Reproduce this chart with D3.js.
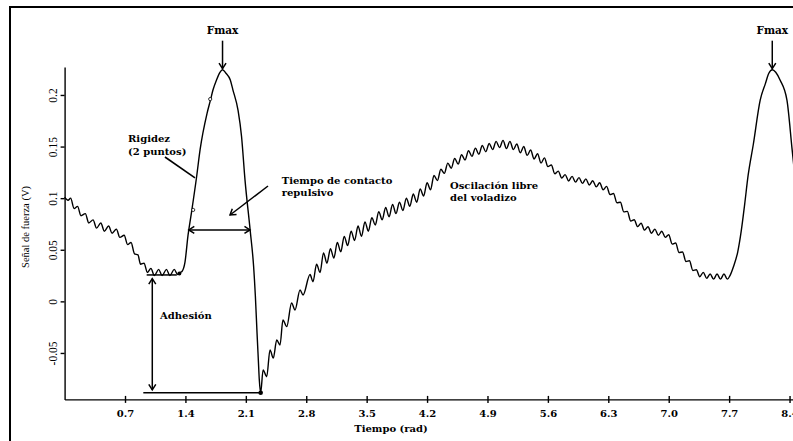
<!DOCTYPE html>
<html>
<head>
<meta charset="utf-8">
<script src="https://cdn.jsdelivr.net/npm/d3@7"></script>
<style>
body { margin: 0; background: #fff; }
svg { display: block; }
.lbl { font-family: "DejaVu Serif", serif; font-weight: bold; font-size: 10px; fill: #000; }
.ylbl { font-family: "Liberation Serif", serif; font-size: 11.5px; fill: #000; }
</style>
</head>
<body>
<div class="chart"></div>
<script>
var xTicks = [0.7, 1.4, 2.1, 2.8, 3.5, 4.2, 4.9, 5.6, 6.3, 7.0, 7.7, 8.4];
var xTickLabels = ["0.7", "1.4", "2.1", "2.8", "3.5", "4.2", "4.9", "5.6", "6.3", "7.0", "7.7", "8.4"];
var yTicks = [-0.05, 0, 0.05, 0.1, 0.15, 0.2];
var yTickLabels = ["-0.05", "0", "0.05", "0.1", "0.15", "0.2"];

// señal de fuerza (V) vs tiempo (rad)
var senal = [
	[0.00, 0.101], [0.04, 0.098], [0.07, 0.100], [0.11, 0.090], [0.15, 0.092], [0.19, 0.083],
	[0.24, 0.085], [0.28, 0.076], [0.33, 0.079], [0.37, 0.071], [0.42, 0.076], [0.46, 0.068],
	[0.51, 0.073], [0.55, 0.066], [0.60, 0.070], [0.64, 0.062], [0.69, 0.064], [0.73, 0.055],
	[0.77, 0.057], [0.81, 0.046], [0.85, 0.045], [0.88, 0.036], [0.92, 0.037], [0.96, 0.028],
	[1.00, 0.032], [1.04, 0.025], [1.09, 0.031], [1.13, 0.025], [1.18, 0.031], [1.22, 0.025],
	[1.27, 0.031], [1.31, 0.026], [1.34, 0.028],
	[1.36, 0.029], [1.395, 0.038], [1.43, 0.064], [1.47, 0.086], [1.53, 0.121], [1.57, 0.147],
	[1.65, 0.182], [1.69, 0.195], [1.72, 0.205], [1.76, 0.2145], [1.80, 0.222], [1.83, 0.2245],
	[1.87, 0.221], [1.92, 0.2145], [1.95, 0.205], [2.01, 0.185], [2.05, 0.160], [2.09, 0.118],
	[2.15, 0.069], [2.19, 0.034], [2.21, 0.006], [2.23, -0.031], [2.245, -0.057], [2.256, -0.076],
	[2.272, -0.0885],
	[2.30, -0.0665], [2.342, -0.073], [2.38, -0.047], [2.418, -0.055], [2.458, -0.0374], [2.496, -0.0423],
	[2.53, -0.018], [2.574, -0.0245], [2.63, -0.0016], [2.67, -0.0083], [2.728, 0.011], [2.763, 0.0062],
	[2.844, 0.026], [2.878, 0.019], [2.92, 0.036], [2.96, 0.028],
	[3.00, 0.047], [3.04, 0.037], [3.08, 0.051], [3.12, 0.042], [3.16, 0.057], [3.20, 0.048],
	[3.24, 0.063], [3.28, 0.054], [3.32, 0.068], [3.36, 0.059], [3.40, 0.073], [3.44, 0.063],
	[3.48, 0.077], [3.52, 0.068], [3.56, 0.081], [3.60, 0.074], [3.64, 0.087], [3.68, 0.079],
	[3.72, 0.091], [3.76, 0.082], [3.80, 0.094], [3.84, 0.085], [3.88, 0.096], [3.92, 0.088],
	[3.96, 0.100], [4.00, 0.092], [4.04, 0.104], [4.08, 0.096], [4.12, 0.109], [4.16, 0.102],
	[4.20, 0.115], [4.24, 0.108], [4.28, 0.122], [4.32, 0.117], [4.36, 0.128], [4.40, 0.124],
	[4.44, 0.134], [4.48, 0.129], [4.52, 0.1385], [4.56, 0.133], [4.60, 0.142], [4.64, 0.137],
	[4.68, 0.146], [4.72, 0.1405], [4.76, 0.1485], [4.80, 0.1426], [4.84, 0.151], [4.88, 0.145],
	[4.92, 0.153], [4.96, 0.147], [5.00, 0.155], [5.04, 0.149], [5.08, 0.156], [5.12, 0.148],
	[5.16, 0.155], [5.20, 0.147], [5.24, 0.1525], [5.28, 0.144], [5.32, 0.150], [5.36, 0.1415],
	[5.40, 0.1467], [5.44, 0.138], [5.48, 0.143], [5.52, 0.134], [5.56, 0.139], [5.60, 0.1306],
	[5.64, 0.1322], [5.68, 0.1237], [5.72, 0.1262], [5.76, 0.1195], [5.80, 0.1228], [5.84, 0.1167],
	[5.88, 0.1211], [5.92, 0.1155], [5.96, 0.1199], [6.00, 0.1143], [6.04, 0.1187], [6.08, 0.1128],
	[6.12, 0.1169], [6.16, 0.1109], [6.20, 0.115], [6.24, 0.1082], [6.28, 0.1114], [6.32, 0.1035],
	[6.36, 0.1045], [6.40, 0.0955], [6.44, 0.0961], [6.48, 0.0867], [6.52, 0.0872], [6.56, 0.0778],
	[6.60, 0.0791], [6.64, 0.0724], [6.68, 0.0757], [6.72, 0.069], [6.76, 0.0723], [6.80, 0.066],
	[6.84, 0.070], [6.88, 0.064], [6.92, 0.068], [6.96, 0.062], [7.00, 0.0645], [7.04, 0.0555],
	[7.08, 0.0565], [7.12, 0.0473], [7.16, 0.0479], [7.20, 0.0386], [7.24, 0.0393], [7.28, 0.0299],
	[7.32, 0.0306], [7.36, 0.0239], [7.40, 0.0281], [7.44, 0.0223], [7.48, 0.0265], [7.52, 0.0215],
	[7.56, 0.0265], [7.60, 0.0215], [7.64, 0.0265], [7.68, 0.0215], [7.71, 0.025],
	[7.75, 0.0336], [7.80, 0.048], [7.84, 0.068], [7.88, 0.094], [7.92, 0.122], [7.98, 0.152],
	[8.06, 0.195], [8.12, 0.211], [8.16, 0.221], [8.20, 0.2245], [8.24, 0.222], [8.29, 0.2145],
	[8.37, 0.195], [8.43, 0.147], [8.47, 0.115]
];

var W = 793, H = 441;

var svg = d3.select(".chart").append("svg")
	.attr("width", W)
	.attr("height", H);

var x = d3.scaleLinear()
	.domain([0, 8.6])
	.range([64.6, 806.8]);

var y = d3.scaleLinear()
	.domain([-0.095, 0.227])
	.range([399.4, 67.1]);

var defs = svg.append("defs");
defs.append("marker")
		.attr("id", "punta")
		.attr("markerUnits", "userSpaceOnUse")
		.attr("viewBox", "-8 -6 10 12")
		.attr("markerWidth", 10)
		.attr("markerHeight", 12)
		.attr("refX", 0)
		.attr("refY", 0)
		.attr("orient", "auto-start-reverse")
	.append("path")
		.attr("d", "M-5.5,-3.5L0,0L-5.5,3.5")
		.attr("fill", "none")
		.attr("stroke", "#000")
		.attr("stroke-width", 1.5);

// marco
svg.append("rect")
	.attr("x", 10)
	.attr("y", 7)
	.attr("width", 820)
	.attr("height", 460)
	.attr("fill", "none")
	.attr("stroke", "#000")
	.attr("stroke-width", 2);

// ejes
var xAxis = svg.append("g")
	.attr("transform", "translate(0," + y.range()[0] + ")")
	.call(d3.axisBottom(x)
		.tickValues(xTicks)
		.tickFormat(function(d, i){ return xTickLabels[i]; })
		.tickSize(3.5)
		.tickSizeOuter(0));

xAxis.selectAll("line").attr("y1", -3.5);
xAxis.selectAll("text")
	.attr("class", "lbl")
	.attr("font-family", null)
	.attr("y", 17.3)
	.attr("dy", null);

var yAxis = svg.append("g")
	.attr("transform", "translate(" + x(0) + ",0)")
	.call(d3.axisLeft(y)
		.tickValues(yTicks)
		.tickFormat(function(d, i){ return yTickLabels[i]; })
		.tickSize(4)
		.tickSizeOuter(0));

yAxis.selectAll("text")
	.attr("class", "ylbl")
	.attr("x", null)
	.attr("dy", null)
	.attr("text-anchor", "middle")
	.attr("transform", "translate(-8,0) rotate(-90)");

svg.selectAll(".domain, .tick line")
	.attr("stroke", "#000")
	.attr("stroke-width", 1.4);
svg.selectAll(".tick text").attr("fill", "#000");

svg.append("text")
	.attr("class", "lbl")
	.attr("x", 391)
	.attr("y", 431.5)
	.attr("text-anchor", "middle")
	.text("Tiempo (rad)");

svg.append("text")
	.attr("class", "ylbl")
	.style("font-size", "10.5px")
	.attr("transform", "translate(29," + 227 + ") rotate(-90)")
	.attr("text-anchor", "middle")
	.text("Señal de fuerza (V)");

// curva
var line = d3.line()
	.curve(d3.curveMonotoneX)
	.x(function(d){ return x(d[0]); })
	.y(function(d){ return y(d[1]); });

svg.append("path")
	.datum(senal)
	.attr("d", line)
	.attr("fill", "none")
	.attr("stroke", "#000")
	.attr("stroke-width", 1.4)
	.attr("stroke-linejoin", "round");

// anotaciones
function flecha(t1, v1, t2, v2, doble){
	var l = svg.append("line")
		.attr("x1", x(t1)).attr("y1", y(v1))
		.attr("x2", x(t2)).attr("y2", y(v2))
		.attr("stroke", "#000")
		.attr("stroke-width", 1.5)
		.attr("marker-end", "url(#punta)");
	if (doble) l.attr("marker-start", "url(#punta)");
	return l;
}

function texto(t, v, s, anchor){
	svg.append("text")
		.attr("class", "lbl")
		.attr("x", x(t))
		.attr("y", y(v))
		.attr("text-anchor", anchor || "start")
		.text(s);
}

// Fmax: maximos de cada ciclo
var picos = [
	d3.greatest(senal.filter(function(d){ return d[0] < 4; }), function(d){ return d[1]; }),
	d3.greatest(senal.filter(function(d){ return d[0] > 7; }), function(d){ return d[1]; })
];

picos.forEach(function(p){
	var px = x(p[0]), py = y(p[1]);
	svg.append("line")
		.attr("x1", px).attr("y1", py - 29)
		.attr("x2", px).attr("y2", py - 1)
		.attr("stroke", "#000")
		.attr("stroke-width", 1.5)
		.attr("marker-end", "url(#punta)");
	svg.append("text")
		.attr("class", "lbl")
		.style("font-size", "10.5px")
		.attr("x", px)
		.attr("y", py - 35.5)
		.attr("text-anchor", "middle")
		.text("Fmax");
});

// rigidez
texto(0.735, 0.154, "Rigidez");
texto(0.735, 0.1414, "(2 puntos)");
svg.append("line")
	.attr("x1", x(1.163)).attr("y1", y(0.1399))
	.attr("x2", x(1.511)).attr("y2", y(0.1196))
	.attr("stroke", "#000")
	.attr("stroke-width", 1.6);

// tiempo de contacto
flecha(1.439, 0.0692, 2.148, 0.0692, true);
flecha(2.357, 0.1118, 1.917, 0.0837, false);
texto(2.516, 0.1135, "Tiempo de contacto");
texto(2.516, 0.1021, "repulsivo");

// oscilacion libre
texto(4.466, 0.1084, "Oscilación libre");
texto(4.466, 0.0968, "del voladizo");

// adhesion
var minimo = d3.least(senal, function(d){ return d[1]; });
svg.append("line")
	.attr("x1", x(0.951)).attr("y1", y(0.0256))
	.attr("x2", x(1.30)).attr("y2", y(0.0256))
	.attr("stroke", "#000").attr("stroke-width", 1.5);
svg.append("line")
	.attr("x1", x(0.912)).attr("y1", y(minimo[1]))
	.attr("x2", x(minimo[0])).attr("y2", y(minimo[1]))
	.attr("stroke", "#000").attr("stroke-width", 1.5);
flecha(1.016, 0.022, 1.016, -0.0858, true);
texto(1.106, -0.0175, "Adhesión");

// puntos
svg.append("circle")
	.attr("cx", x(1.33)).attr("cy", y(0.027)).attr("r", 2)
	.attr("fill", "#000");
svg.append("circle")
	.attr("cx", x(minimo[0])).attr("cy", y(minimo[1])).attr("r", 2.3)
	.attr("fill", "#000");
svg.selectAll(".rig")
	.data([[1.49, 0.0886], [1.687, 0.196]])
	.enter().append("circle")
		.attr("class", "rig")
		.attr("cx", function(d){ return x(d[0]); })
		.attr("cy", function(d){ return y(d[1]); })
		.attr("r", 1.6)
		.attr("fill", "#fff")
		.attr("stroke", "#000")
		.attr("stroke-width", 0.8);
</script>
</body>
</html>
